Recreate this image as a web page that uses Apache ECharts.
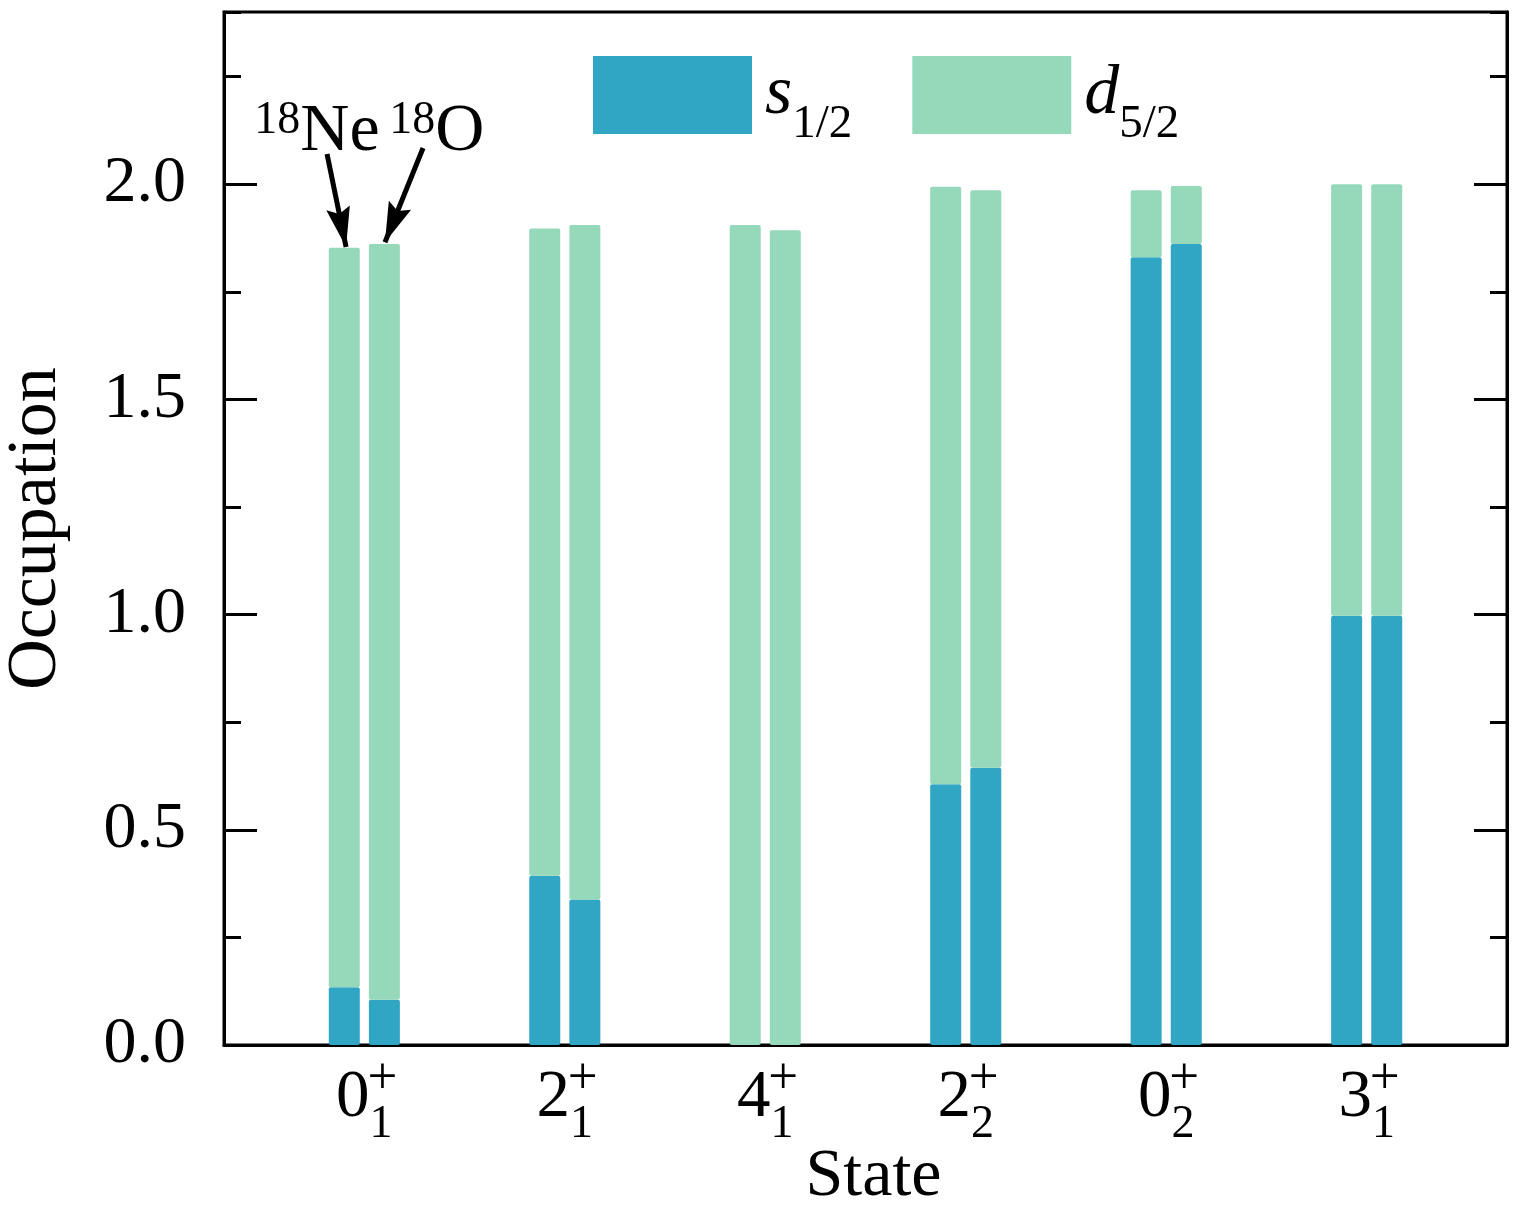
<!DOCTYPE html>
<html><head><meta charset="utf-8">
<script src="https://cdn.jsdelivr.net/npm/echarts@6/dist/echarts.min.js"></script>
<style>html,body{margin:0;padding:0;background:#fff}#c{width:1518px;height:1206px}</style>
</head><body><div id="c"></div>
<script>
// ---- data ----
const statePos = [0, 1, 2, 3, 4, 5];
const stateMain = ['0', '2', '4', '2', '0', '3'];
const stateSub = ['1', '1', '1', '2', '2', '1'];
const stateSup = ['+', '+', '+', '+', '+', '+'];
const nucleusOffset = [-0.1, 0.1];           // 18Ne left, 18O right
const sNe = [0.134, 0.393, 0.0, 0.606, 1.830, 0.997];
const dNe = [1.718, 1.504, 1.905, 1.388, 0.156, 1.003];
const sO  = [0.105, 0.338, 0.0, 0.644, 1.861, 0.997];
const dO  = [1.756, 1.567, 1.893, 1.342, 0.135, 1.003];
const yTicks = [0, 0.5, 1.0, 1.5, 2.0];
const legendNames = ['s', 'd'];
const legendSubs = ['1/2', '5/2'];
// annotation (data coords)
const neLabelPos = [-0.236, 2.121];
const oLabelPos = [0.362, 2.121];
const neArrow = [[-0.186, 2.07], [-0.091, 1.854]];
const oArrow = [[0.293, 2.084], [0.103, 1.865]];

const FONT = 'Liberation Serif, Times New Roman, serif';
const BLUE = '#31A5C4', GREEN = '#96D9BA';

// items are [occupation, position] so that the stacked dimension is the occupation
function pairs(vNe, vO) {
  const out = [];
  statePos.forEach((p, i) => {
    out.push([vNe[i], p + nucleusOffset[0]]);
    out.push([vO[i], p + nucleusOffset[1]]);
  });
  return out;
}

const chart = echarts.init(document.getElementById('c'), null, {renderer: 'canvas'});
const grid = {left: 224, right: 11, top: 12, bottom: 161, show: true, borderColor: '#000', borderWidth: 3, containLabel: false, outerBoundsMode: 'none'};

const xBase = {type: 'value', min: -0.7, max: 5.7, gridIndex: 0, splitLine: {show: false}, axisTick: {show: false}};
const yBase = {type: 'value', min: 0, max: 2.4, splitLine: {show: false}};

const option = {
  backgroundColor: '#fff',
  animation: false,
  grid: grid,
  legend: {
    left: 593, top: 56, padding: 0,
    itemWidth: 159, itemHeight: 78, itemGap: 60,
    icon: 'rect',
    data: legendNames,
    formatter: function (n) { const i = legendNames.indexOf(n); return '{i|' + n + '}{sub|' + legendSubs[i] + '}'; },
    textStyle: {
      fontFamily: FONT, color: '#000',
      rich: {
        i: {fontFamily: FONT, fontStyle: 'italic', fontSize: 70, color: '#000', padding: [0, 0, 0, 8], verticalAlign: 'bottom', lineHeight: 70},
        sub: {fontFamily: FONT, fontSize: 47, color: '#000', verticalAlign: 'bottom', lineHeight: 47, padding: [0, 0, -18, 0]}
      }
    }
  },
  xAxis: [
    Object.assign({}, xBase, {
      position: 'bottom',
      name: 'State', nameLocation: 'middle', nameGap: 98, nameMoveOverlap: false,
      nameTextStyle: {fontFamily: FONT, fontSize: 68, color: '#000', padding: [0, 0, 0, 16]},
      axisLine: {show: true, onZero: false, lineStyle: {color: '#000', width: 3}},
      axisLabel: {
        customValues: statePos, margin: 20,
        formatter: function (v) { const i = statePos.indexOf(Math.round(v)); return '{n|' + stateMain[i] + '}{s|' + stateSub[i] + '}'; },
        rich: {
          n: {fontFamily: FONT, fontSize: 67, color: '#000', verticalAlign: 'top', lineHeight: 67},
          s: {fontFamily: FONT, fontSize: 46, color: '#000', verticalAlign: 'top', lineHeight: 46, padding: [37, 0, 0, 0]}
        }
      }
    }),
    Object.assign({}, xBase, {
      position: 'bottom',
      axisLine: {show: false, onZero: false},
      axisLabel: {
        customValues: statePos, margin: 8,
        formatter: function (v) { const i = statePos.indexOf(Math.round(v)); return stateSup[i]; },
        fontFamily: FONT, fontSize: 53, color: '#000', padding: [0, 0, 0, 36]
      }
    })
  ],
  yAxis: [
    Object.assign({}, yBase, {
      interval: 0.5, position: 'left',
      name: 'Occupation', nameLocation: 'middle', nameGap: 152,
      nameTextStyle: {fontFamily: FONT, fontSize: 70, color: '#000'},
      axisLine: {show: true, onZero: false, lineStyle: {color: '#000', width: 3}},
      axisTick: {show: true, inside: true, length: 33, lineStyle: {color: '#000', width: 3}, customValues: yTicks},
      axisLabel: {customValues: yTicks, margin: 38, fontFamily: FONT, fontSize: 66, color: '#000', formatter: v => v.toFixed(1)}
    }),
    Object.assign({}, yBase, {
      interval: 0.25, position: 'left',
      axisLine: {show: false, onZero: false},
      axisTick: {show: true, inside: true, length: 17, lineStyle: {color: '#000', width: 3}},
      axisLabel: {show: false}
    }),
    Object.assign({}, yBase, {
      interval: 0.5, position: 'right',
      axisLine: {show: true, onZero: false, lineStyle: {color: '#000', width: 3}},
      axisTick: {show: true, inside: true, length: 33, lineStyle: {color: '#000', width: 3}, customValues: yTicks},
      axisLabel: {show: false}
    }),
    Object.assign({}, yBase, {
      interval: 0.25, position: 'right',
      axisLine: {show: false, onZero: false},
      axisTick: {show: true, inside: true, length: 17, lineStyle: {color: '#000', width: 3}},
      axisLabel: {show: false}
    })
  ],
  series: [
    {
      name: 's', type: 'bar', stack: 'occ', xAxisIndex: 0, yAxisIndex: 0,
      dimensions: ['occ', 'pos'], encode: {x: 'pos', y: 'occ'},
      barWidth: 31, itemStyle: {color: BLUE, borderRadius: 2},
      data: pairs(sNe, sO)
    },
    {
      name: 'd', type: 'bar', stack: 'occ', xAxisIndex: 0, yAxisIndex: 0,
      dimensions: ['occ', 'pos'], encode: {x: 'pos', y: 'occ'},
      barWidth: 31, itemStyle: {color: GREEN, borderRadius: 2},
      data: pairs(dNe, dO)
    },
    {
      name: 'annot', type: 'scatter', xAxisIndex: 0, yAxisIndex: 0, data: [], silent: true,
      markLine: {
        silent: true, animation: false,
        symbol: ['none', 'path://M50,0 L100,100 L50,84 L0,100 Z'], symbolSize: [24, 40],
        symbolOffset: [[0, 0], [0, 20]],
        lineStyle: {color: '#000', width: 5, type: 'solid'},
        label: {show: false},
        data: [
          [{coord: neArrow[0]}, {coord: neArrow[1]}],
          [{coord: oArrow[0]}, {coord: oArrow[1]}]
        ]
      },
      markPoint: {
        silent: true, animation: false, symbol: 'circle', symbolSize: 0,
        label: {
          show: true, position: 'inside',
          rich: {
            sup: {fontFamily: FONT, fontSize: 46, color: '#000', verticalAlign: 'top', lineHeight: 46},
            m: {fontFamily: FONT, fontSize: 68, color: '#000', verticalAlign: 'bottom', lineHeight: 68, padding: [14, 0, 0, 0]}
          }
        },
        data: [
          {coord: neLabelPos, label: {formatter: '{sup|18}{m|Ne}'}},
          {coord: oLabelPos, label: {formatter: '{sup|18}{m|O}'}}
        ]
      }
    }
  ]
};
chart.setOption(option);
</script>
</body></html>
